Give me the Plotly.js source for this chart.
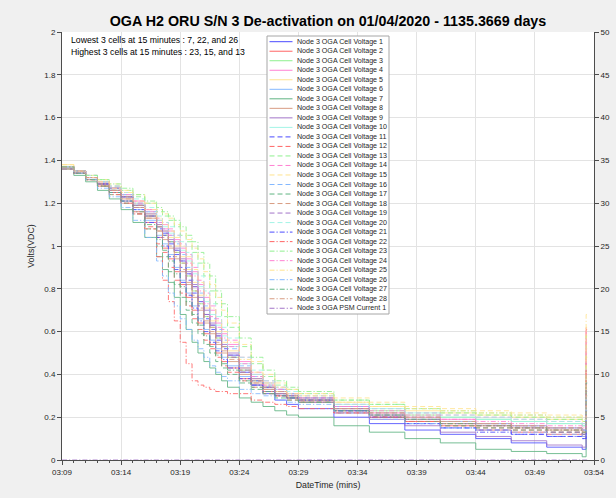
<!DOCTYPE html>
<html>
<head>
<meta charset="utf-8">
<script src="https://cdn.plot.ly/plotly-3.0.1.min.js"></script>
<style>
  html, body { margin: 0; padding: 0; background: #f0f0f0; }
  #chart { width: 616px; height: 498px; }
</style>
</head>
<body>
<div id="chart"></div>
<script>
// ---------------- DATA ----------------
const dateStr = '2020-01-04';
const timeLabels = ['03:09:00','03:10:00','03:11:00','03:12:00','03:13:00','03:14:00','03:15:00','03:16:00','03:17:00',
  '03:17:30','03:18:00','03:18:30','03:19:00','03:19:30','03:20:00','03:20:30','03:21:00','03:21:30','03:22:00','03:22:30','03:23:00',
  '03:24:00','03:25:00','03:26:00','03:27:00','03:28:00','03:29:00',
  '03:32:00','03:35:00','03:38:00','03:41:00','03:44:00','03:47:00','03:50:00','03:53:00',
  '03:53:20','03:53:25'];

const cell1  = [1.37,1.35,1.32,1.29,1.27,1.23,1.19,1.14,1.09, 1.06,1.02,0.98,0.93,0.87,0.81,0.74,0.68,0.63,0.58,0.53,0.49, 0.41,0.35,0.31,0.28,0.26,0.24, 0.20,0.17,0.14,0.12,0.10,0.08,0.06,0.05, 0.23,0.23];
const cell2  = [1.36,1.34,1.31,1.28,1.25,1.21,1.16,1.11,1.04, 0.99,0.94,0.88,0.82,0.76,0.70,0.64,0.59,0.54,0.50,0.46,0.43, 0.38,0.35,0.32,0.30,0.29,0.27, 0.23,0.20,0.18,0.16,0.14,0.13,0.12,0.11, 0.61,0.61];
const cell3  = [1.37,1.35,1.32,1.29,1.26,1.23,1.19,1.14,1.09, 1.05,1.02,0.97,0.92,0.86,0.79,0.73,0.67,0.62,0.57,0.53,0.48, 0.42,0.37,0.34,0.32,0.30,0.28, 0.25,0.23,0.21,0.20,0.19,0.18,0.17,0.16, 0.30,0.30];
const cell4  = [1.37,1.35,1.32,1.30,1.27,1.24,1.21,1.17,1.12, 1.10,1.07,1.03,0.99,0.94,0.88,0.82,0.76,0.70,0.64,0.59,0.54, 0.46,0.40,0.36,0.33,0.31,0.29, 0.25,0.22,0.20,0.19,0.17,0.16,0.15,0.14, 0.55,0.55];
const cell5  = [1.38,1.35,1.32,1.30,1.27,1.24,1.20,1.15,1.10, 1.07,1.04,1.00,0.95,0.89,0.83,0.77,0.71,0.65,0.60,0.55,0.51, 0.43,0.38,0.35,0.32,0.30,0.29, 0.27,0.25,0.23,0.22,0.21,0.20,0.19,0.18, 0.50,0.50];
const cell6  = [1.37,1.34,1.32,1.29,1.26,1.21,1.17,1.12,1.05, 1.01,0.96,0.90,0.84,0.78,0.72,0.66,0.61,0.56,0.52,0.48,0.44, 0.39,0.35,0.33,0.31,0.29,0.28, 0.24,0.21,0.19,0.18,0.17,0.16,0.15,0.14, 0.33,0.33];
const cell7  = [1.36,1.33,1.30,1.26,1.22,1.17,1.11,1.04,0.95, 0.89,0.83,0.76,0.68,0.61,0.55,0.50,0.46,0.43,0.40,0.37,0.34, 0.29,0.27,0.25,0.23,0.21,0.20, 0.16,0.13,0.10,0.08,0.05,0.04,0.03,0.015, 0.20,0.20];
const cell8  = [1.37,1.35,1.32,1.29,1.26,1.22,1.18,1.13,1.07, 1.03,0.99,0.94,0.88,0.82,0.76,0.70,0.64,0.59,0.54,0.50,0.46, 0.40,0.36,0.33,0.31,0.29,0.28, 0.24,0.21,0.19,0.17,0.16,0.15,0.14,0.13, 0.36,0.36];
const cell9  = [1.37,1.35,1.32,1.29,1.27,1.23,1.19,1.15,1.10, 1.07,1.03,0.99,0.94,0.88,0.82,0.76,0.70,0.64,0.59,0.54,0.50, 0.43,0.38,0.34,0.31,0.29,0.27, 0.22,0.19,0.16,0.13,0.11,0.09,0.07,0.06, 0.28,0.28];
const cell10 = [1.37,1.35,1.32,1.30,1.27,1.24,1.20,1.16,1.12, 1.09,1.06,1.02,0.98,0.93,0.87,0.81,0.74,0.68,0.63,0.58,0.53, 0.45,0.40,0.36,0.33,0.31,0.29, 0.26,0.24,0.22,0.20,0.19,0.18,0.17,0.16, 0.38,0.38];
const cell11 = [1.37,1.35,1.32,1.29,1.26,1.23,1.18,1.14,1.08, 1.05,1.01,0.96,0.90,0.84,0.78,0.72,0.66,0.61,0.56,0.52,0.48, 0.41,0.37,0.34,0.31,0.30,0.28, 0.23,0.20,0.17,0.15,0.14,0.12,0.11,0.10, 0.26,0.26];
const cell12 = [1.36,1.34,1.31,1.28,1.25,1.20,1.15,1.09,1.01, 0.97,0.90,0.84,0.78,0.72,0.66,0.61,0.56,0.52,0.48,0.44,0.41, 0.37,0.34,0.31,0.30,0.28,0.27, 0.22,0.20,0.18,0.16,0.15,0.14,0.13,0.12, 0.48,0.48];
const cell13 = [1.37,1.35,1.33,1.31,1.28,1.26,1.23,1.20,1.16, 1.14,1.12,1.09,1.05,1.02,0.97,0.92,0.86,0.79,0.73,0.67,0.62, 0.53,0.45,0.39,0.35,0.33,0.31, 0.28,0.26,0.24,0.22,0.21,0.20,0.19,0.18, 0.45,0.45];
const cell14 = [1.37,1.35,1.33,1.30,1.28,1.25,1.21,1.17,1.13, 1.11,1.08,1.05,1.01,0.96,0.90,0.84,0.78,0.72,0.66,0.61,0.56, 0.48,0.41,0.37,0.34,0.31,0.30, 0.26,0.24,0.22,0.21,0.20,0.19,0.18,0.17, 0.52,0.52];
const cell15 = [1.38,1.35,1.33,1.31,1.29,1.26,1.24,1.20,1.17, 1.15,1.13,1.10,1.07,1.03,0.99,0.94,0.88,0.82,0.76,0.70,0.64, 0.54,0.46,0.40,0.36,0.33,0.31, 0.29,0.27,0.25,0.24,0.23,0.22,0.21,0.20, 0.62,0.62];
const cell16 = [1.37,1.35,1.32,1.30,1.27,1.24,1.20,1.16,1.11, 1.08,1.05,1.01,0.96,0.90,0.84,0.78,0.72,0.66,0.61,0.56,0.52, 0.44,0.39,0.35,0.33,0.31,0.29, 0.25,0.22,0.20,0.18,0.17,0.16,0.15,0.14, 0.34,0.34];
const cell17 = [1.36,1.34,1.31,1.28,1.24,1.20,1.15,1.08,1.00, 0.95,0.88,0.82,0.76,0.70,0.64,0.59,0.54,0.50,0.46,0.43,0.40, 0.36,0.33,0.31,0.29,0.28,0.27, 0.23,0.20,0.18,0.16,0.15,0.14,0.13,0.12, 0.30,0.30];
const cell18 = [1.37,1.34,1.32,1.29,1.26,1.22,1.18,1.13,1.07, 1.04,1.00,0.95,0.89,0.83,0.77,0.71,0.65,0.60,0.55,0.51,0.47, 0.41,0.36,0.33,0.31,0.29,0.28, 0.24,0.22,0.20,0.18,0.17,0.16,0.15,0.15, 0.40,0.40];
const cell19 = [1.36,1.35,1.32,1.29,1.27,1.23,1.19,1.14,1.09, 1.06,1.02,0.98,0.93,0.87,0.81,0.74,0.68,0.63,0.58,0.53,0.49, 0.42,0.37,0.34,0.32,0.30,0.29, 0.24,0.21,0.19,0.17,0.16,0.15,0.13,0.12, 0.36,0.36];
const cell20 = [1.37,1.35,1.33,1.30,1.28,1.25,1.22,1.18,1.14, 1.11,1.09,1.05,1.02,0.97,0.92,0.86,0.79,0.73,0.67,0.62,0.57, 0.48,0.42,0.37,0.34,0.32,0.30, 0.26,0.24,0.22,0.21,0.20,0.19,0.18,0.17, 0.44,0.44];
const cell21 = [1.37,1.34,1.32,1.29,1.25,1.21,1.17,1.11,1.04, 1.00,0.95,0.89,0.83,0.77,0.71,0.65,0.60,0.55,0.51,0.47,0.43, 0.38,0.35,0.32,0.30,0.29,0.28, 0.23,0.20,0.17,0.15,0.13,0.12,0.11,0.10, 0.32,0.32];
const cell22 = [1.37,1.34,1.31,1.28,1.24,1.20,1.15,1.08,0.95, 0.84,0.74,0.65,0.55,0.45,0.37,0.35,0.34,0.33,0.32,0.32,0.31, 0.31,0.28,0.27,0.26,0.25,0.24, 0.22,0.20,0.18,0.17,0.16,0.15,0.14,0.13, 0.42,0.42];
const cell23 = [1.37,1.35,1.33,1.31,1.29,1.27,1.24,1.21,1.18, 1.16,1.14,1.12,1.09,1.05,1.02,0.97,0.92,0.86,0.79,0.73,0.67, 0.57,0.48,0.42,0.37,0.34,0.32, 0.28,0.26,0.24,0.23,0.22,0.21,0.20,0.19, 0.58,0.58];
const cell24 = [1.37,1.35,1.32,1.30,1.27,1.24,1.20,1.16,1.11, 1.08,1.05,1.02,0.97,0.92,0.86,0.79,0.73,0.67,0.62,0.57,0.53, 0.45,0.39,0.35,0.33,0.31,0.29, 0.25,0.23,0.21,0.19,0.18,0.17,0.16,0.15, 0.62,0.62];
const cell25 = [1.37,1.35,1.32,1.30,1.27,1.25,1.21,1.17,1.13, 1.10,1.07,1.04,1.00,0.95,0.89,0.83,0.77,0.71,0.65,0.60,0.55, 0.47,0.41,0.36,0.34,0.31,0.30, 0.27,0.25,0.24,0.23,0.22,0.21,0.20,0.19, 0.68,0.68];
const cell26 = [1.36,1.34,1.31,1.27,1.23,1.18,1.12,1.04,0.93, 0.86,0.78,0.72,0.66,0.61,0.56,0.52,0.48,0.44,0.41,0.39,0.37, 0.33,0.31,0.30,0.28,0.27,0.26, 0.22,0.19,0.17,0.15,0.14,0.13,0.12,0.11, 0.30,0.30];
const cell27 = [1.37,1.34,1.31,1.28,1.25,1.21,1.16,1.10,1.03, 0.98,0.93,0.87,0.81,0.74,0.68,0.63,0.58,0.53,0.49,0.45,0.42, 0.37,0.34,0.32,0.30,0.29,0.27, 0.23,0.21,0.19,0.17,0.16,0.15,0.14,0.13, 0.36,0.36];
const cell28 = [1.36,1.35,1.32,1.29,1.26,1.23,1.19,1.14,1.09, 1.05,1.02,0.97,0.92,0.86,0.79,0.73,0.67,0.62,0.57,0.53,0.48, 0.42,0.37,0.34,0.32,0.30,0.28, 0.24,0.22,0.20,0.18,0.17,0.16,0.15,0.14, 0.42,0.42];
const psmCurrent = [0,0,0,0,0,0,0,0,0, 0,0,0,0,0,0,0,0,0,0,0,0, 0,0,0,0,0,0, 0,0,0,0,0,0,0,0, 0,0];

const cellSeries = [cell1,cell2,cell3,cell4,cell5,cell6,cell7,cell8,cell9,cell10,
  cell11,cell12,cell13,cell14,cell15,cell16,cell17,cell18,cell19,cell20,
  cell21,cell22,cell23,cell24,cell25,cell26,cell27,cell28];
const cellNames = cellSeries.map((_, i) => 'Node 3 OGA Cell Voltage ' + (i + 1));
const psmName = 'Node 3 OGA PSM Current 1';
const titleText = 'OGA H2 ORU S/N 3 De-activation on 01/04/2020 - 1135.3669 days';
const noteLines = ['Lowest 3 cells at 15 minutes : 7, 22, and 26',
                   'Highest 3 cells at 15 minutes : 23, 15, and 13'];

// ---------------- STYLE ----------------
const palette = ['#4b4bff','#ff6464','#8ef08e','#ff80d2','#ffe38f','#84b8ff','#5fb482','#d89c82','#a274c8','#a2f4e6'];
const DASH = '5px,3px';
const DASHDOT = '5px,2px,1.2px,2px';
function dashFor(i) { return i < 10 ? 'solid' : (i < 20 ? DASH : DASHDOT); }
const FONT = 'Liberation Sans, Arial, Helvetica, sans-serif';

const x = timeLabels.map(t => dateStr + ' ' + t);

const traces = cellSeries.map((v, i) => ({
  type: 'scatter', mode: 'lines', x: x, y: v, name: cellNames[i], opacity: 0.85,
  line: { shape: 'hv', color: palette[i % 10], width: 1, dash: dashFor(i) },
  showlegend: false, hoverinfo: 'skip'
}));
traces.push({
  type: 'scatter', mode: 'lines', x: x, y: psmCurrent, name: psmName, yaxis: 'y2', opacity: 0.85,
  line: { shape: 'hv', color: palette[28 % 10], width: 1, dash: DASHDOT },
  showlegend: false, hoverinfo: 'skip'
});

// plot area in pixels
const L = 62, R = 594, T = 32, B = 460;
const px = v => (v - L) / (R - L);
const py = v => (B - v) / (B - T);

const shapes = [];
const annotations = [];
// custom legend box
shapes.push({ type: 'rect', xref: 'paper', yref: 'paper', x0: px(267), x1: px(389), y0: py(314), y1: py(36),
  fillcolor: '#ffffff', line: { color: '#a6a6a6', width: 1 }, layer: 'above' });
const legendNames = cellNames.concat([psmName]);
legendNames.forEach((nm, i) => {
  const yy = 41.7 + 9.52 * i;
  shapes.push({ type: 'line', xref: 'paper', yref: 'paper', x0: px(269.5), x1: px(292.5), y0: py(yy), y1: py(yy),
    line: { color: palette[i % 10], width: 1, dash: dashFor(i) }, layer: 'above' });
  annotations.push({ xref: 'paper', yref: 'paper', x: px(295), y: py(yy), xanchor: 'left', yanchor: 'middle',
    text: nm, showarrow: false, font: { family: FONT, size: 7.1, color: '#262626' } });
});
noteLines.forEach((t, i) => {
  annotations.push({ xref: 'paper', yref: 'paper', x: px(69), y: py(40.5 + 11 * i), xanchor: 'left', yanchor: 'middle',
    text: t, showarrow: false, font: { family: FONT, size: 8.7, color: '#000000' } });
});

const axisCommon = {
  ticks: 'outside', ticklen: 4, tickcolor: '#4d4d4d', tickwidth: 1,
  showline: true, linecolor: '#4d4d4d', linewidth: 1, zeroline: false,
  tickfont: { family: FONT, size: 8, color: '#262626' }
};

const layout = {
  width: 616, height: 498,
  paper_bgcolor: '#f0f0f0', plot_bgcolor: '#ffffff',
  margin: { l: L, r: 616 - R, t: T, b: 498 - B, pad: 0 },
  showlegend: false,
  font: { family: FONT, color: '#262626' },
  title: { text: titleText, font: { family: FONT, size: 14.3, color: '#000000', weight: 'bold' },
    x: 0.5, xref: 'paper', xanchor: 'center', y: 1 - 21 / 498, yref: 'container', yanchor: 'middle' },
  xaxis: Object.assign({}, axisCommon, {
    type: 'date', range: [dateStr + ' 03:09:00', dateStr + ' 03:54:00'],
    tick0: dateStr + ' 03:09:00', dtick: 300000, tickformat: '%H:%M',
    showgrid: true, gridcolor: '#e3e3e3', gridwidth: 1,
    minor: { dtick: 60000, tick0: dateStr + ' 03:09:00', ticks: 'outside', ticklen: 2, tickcolor: '#4d4d4d', showgrid: false },
    title: { text: 'DateTime (mins)', font: { family: FONT, size: 8.8, color: '#262626' }, standoff: 6 }
  }),
  yaxis: Object.assign({}, axisCommon, {
    range: [0, 2], dtick: 0.2, tick0: 0,
    showgrid: true, gridcolor: '#e3e3e3', gridwidth: 1,
    title: { text: 'Volts(VDC)', font: { family: FONT, size: 8.8, color: '#262626' }, standoff: 8 }
  }),
  yaxis2: Object.assign({}, axisCommon, {
    overlaying: 'y', side: 'right', range: [0, 50], dtick: 5, tick0: 0, showgrid: false
  }),
  shapes: shapes,
  annotations: annotations
};

Plotly.newPlot('chart', traces, layout, { staticPlot: true, displayModeBar: false });
</script>
</body>
</html>
